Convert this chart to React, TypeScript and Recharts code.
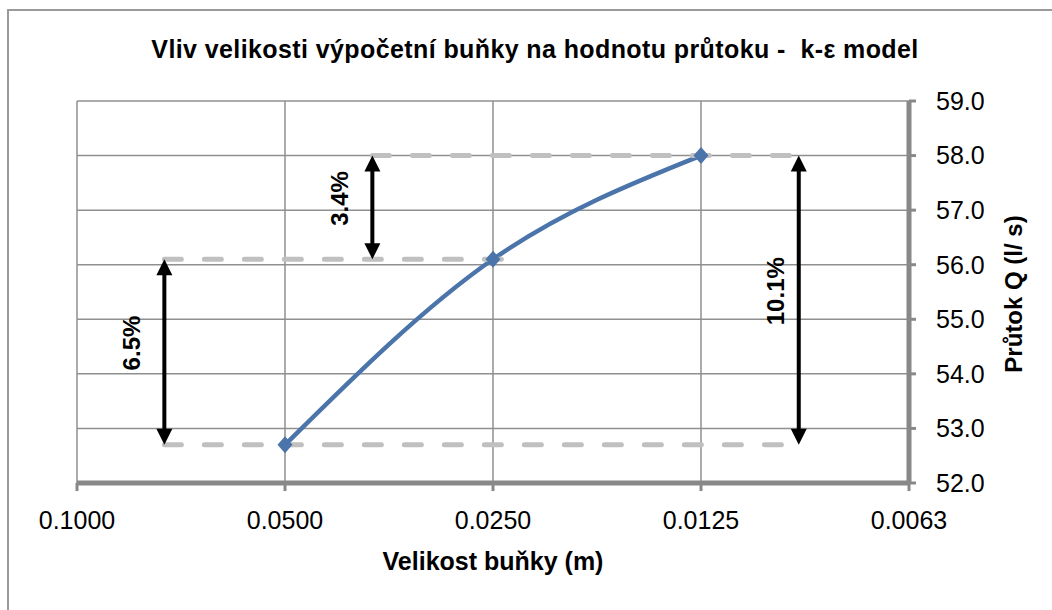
import React from "react";
import {
  ComposedChart,
  Line,
  XAxis,
  YAxis,
  CartesianGrid,
  ReferenceLine,
} from "recharts";

// x axis: cell size (m), equally spaced categories on a halving scale
const cellSizes = ["0.1000", "0.0500", "0.0250", "0.0125", "0.0063"];
const cellIndex = [1, 2, 3];
const flowRates = [52.7, 56.1, 58.0];
const yTicks = [52, 53, 54, 55, 56, 57, 58, 59];

// dashed helper levels (l/s) and how far they run along the x axis
const guideLevels = [52.7, 56.1, 58.0];
const guideFrom = [0.42, 0.42, 1.42];
const guideTo = [3.47, 2.05, 3.46];

// difference arrows
const arrowLabels = ["6.5%", "3.4%", "10.1%"];
const arrowLow = [52.7, 56.1, 52.7];
const arrowHigh = [56.1, 58.0, 58.0];
const arrowAt = [0.42, 1.42, 3.47];
const arrowLabelDx = [-33, -33, -23];

const data = cellIndex.map((x, i) => ({ x, q: flowRates[i] }));

const FONT = "'Liberation Sans', Arial, sans-serif";
const BLUE = "#4a74aa";
const AXIS = "#888888";

const Diamond = (props: any) => {
  const { cx, cy } = props;
  if (cx == null || cy == null) return null;
  return (
    <path
      key={`d-${cx}`}
      d={`M${cx},${cy - 8.5} L${cx + 7.5},${cy} L${cx},${cy + 8.5} L${cx - 7.5},${cy} Z`}
      fill={BLUE}
    />
  );
};

const makeArrow = (label: string, dx: number) => (props: any) => {
  const { x1, y1, y2 } = props;
  if (x1 == null) return null;
  const top = Math.min(y1, y2);
  const bot = Math.max(y1, y2);
  const head = 16;
  const hw = 8;
  const ly = (top + bot) / 2 - 9;
  const lx = x1 + dx;
  return (
    <g>
      <line x1={x1} x2={x1} y1={top + head - 2} y2={bot - head + 2} stroke="#000" strokeWidth={4} />
      <path d={`M${x1},${top} L${x1 + hw},${top + head} L${x1 - hw},${top + head} Z`} fill="#000" />
      <path d={`M${x1},${bot} L${x1 + hw},${bot - head} L${x1 - hw},${bot - head} Z`} fill="#000" />
      <text
        x={lx}
        y={ly}
        transform={`rotate(-90 ${lx} ${ly})`}
        textAnchor="middle"
        dominantBaseline="central"
        fontFamily={FONT}
        fontWeight="bold"
        fontSize={24}
        fill="#000"
      >
        {label}
      </text>
    </g>
  );
};

export default function App() {
  return (
    <div
      style={{
        position: "fixed",
        left: 0,
        top: 0,
        width: 1052,
        height: 610,
        overflow: "hidden",
        background: "#fff",
        fontFamily: FONT,
      }}
    >
      <div
        style={{
          position: "absolute",
          left: 7,
          top: 9,
          width: 1200,
          height: 800,
          border: "2px solid #9a9a9a",
        }}
      />
      <div style={{ position: "absolute", left: 0, top: 0 }}>
        <ComposedChart
          width={1052}
          height={610}
          data={data}
          margin={{ top: 101, left: 77, right: 0, bottom: 0 }}
        >
          <CartesianGrid stroke="#8f8f8f" strokeWidth={1.5} />
          <XAxis
            dataKey="x"
            type="number"
            domain={[0, 4]}
            ticks={[0, 1, 2, 3, 4]}
            interval={0}
            height={127}
            tickFormatter={(v: number) => cellSizes[v]}
            tick={{ fontSize: 25, fill: "#000", fontFamily: FONT }}
            tickSize={8}
            tickMargin={20}
            axisLine={{ stroke: AXIS, strokeWidth: 5 }}
            tickLine={{ stroke: AXIS, strokeWidth: 3 }}
          />
          <YAxis
            orientation="right"
            type="number"
            domain={[52, 59]}
            ticks={yTicks}
            interval={0}
            width={143}
            tickFormatter={(v: number) => v.toFixed(1)}
            tick={{ fontSize: 25, fill: "#000", fontFamily: FONT }}
            tickSize={7}
            tickMargin={20}
            axisLine={{ stroke: AXIS, strokeWidth: 5 }}
            tickLine={{ stroke: AXIS, strokeWidth: 3 }}
          />
          <Line
            type="monotone"
            dataKey="q"
            stroke={BLUE}
            strokeWidth={4.5}
            dot={<Diamond />}
            activeDot={false}
            isAnimationActive={false}
          />
          {guideLevels.map((y, i) => (
            <ReferenceLine
              key={`g-${i}`}
              segment={[
                { x: guideFrom[i], y },
                { x: guideTo[i], y },
              ]}
              stroke="#c0c0c0"
              strokeWidth={5}
              strokeDasharray="17 23"
              strokeLinecap="round"
            />
          ))}
          {arrowLabels.map((label, i) => (
            <ReferenceLine
              key={`a-${i}`}
              segment={[
                { x: arrowAt[i], y: arrowLow[i] },
                { x: arrowAt[i], y: arrowHigh[i] },
              ]}
              shape={makeArrow(label, arrowLabelDx[i])}
            />
          ))}
        </ComposedChart>
      </div>
      <svg
        width={1052}
        height={610}
        style={{ position: "absolute", left: 0, top: 0, pointerEvents: "none" }}
      >
        <text
          x={535}
          y={58}
          textAnchor="middle"
          fontFamily={FONT}
          fontWeight="bold"
          fontSize={25}
          letterSpacing={0.4}
          style={{ whiteSpace: "pre" }}
        >
          Vliv velikosti výpočetní buňky na hodnotu průtoku -  k-ε model
        </text>
        <text x={493} y={570} textAnchor="middle" fontFamily={FONT} fontWeight="bold" fontSize={25}>
          Velikost buňky (m)
        </text>
        <text
          transform="translate(1022 294) rotate(-90)"
          textAnchor="middle"
          fontFamily={FONT}
          fontWeight="bold"
          fontSize={24}
        >
          Průtok Q (l/ s)
        </text>
      </svg>
    </div>
  );
}
